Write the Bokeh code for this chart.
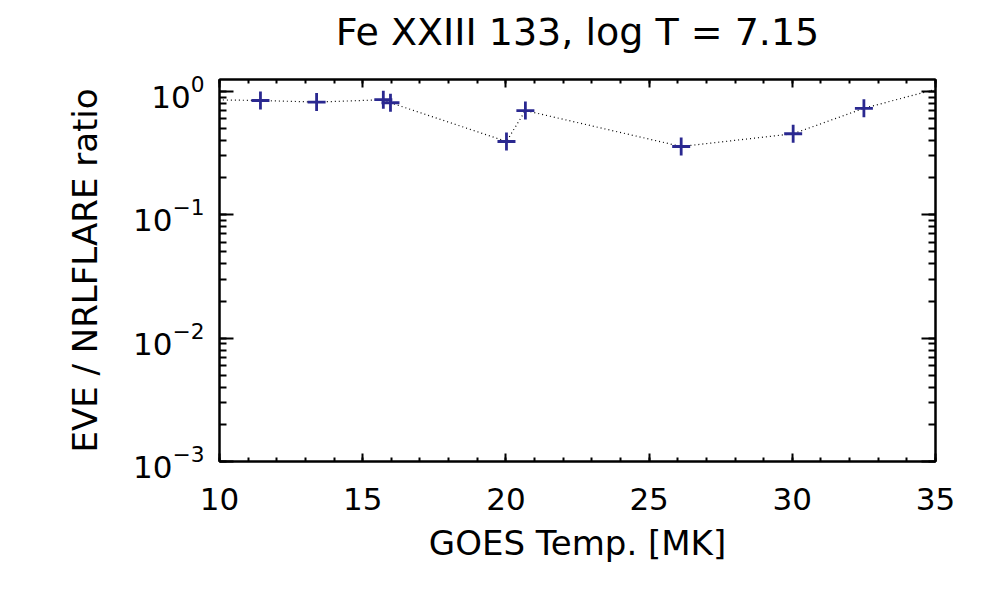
from bokeh.plotting import figure
from bokeh.models import (Range1d, LinearAxis, LogAxis, SingleIntervalTicker,
                          LogTicker, CustomJSTickFormatter, ColumnDataSource)
from bokeh.embed import file_html
from bokeh.resources import INLINE

# Data (first/last points lie outside the axis range,
# only the connecting dotted line reaches into the frame)
temp_mk = [9.0, 11.43, 13.39, 15.72, 15.97, 20.02, 20.68, 26.12, 30.03, 32.50, 36.0]
ratio = [0.86, 0.845, 0.82, 0.857, 0.81, 0.393, 0.70, 0.358, 0.454, 0.73, 1.2]

x_ticks = [10, 15, 20, 25, 30, 35]
title_text = "Fe XXIII 133, log T = 7.15"
x_label = "GOES Temp. [MK]"
y_label = "EVE / NRLFLARE ratio"

FONT = "DejaVu Sans"
src = ColumnDataSource(dict(t=temp_mk, r=ratio))

p = figure(width=984, height=584, x_range=Range1d(10, 35), y_range=Range1d(1e-3, 1.25),
           y_axis_type="log", output_backend="svg", toolbar_location=None,
           min_border_left=219, min_border_right=49, min_border_top=79, min_border_bottom=123)
p.background_fill_color = "white"
p.border_fill_color = "white"
p.outline_line_color = "black"
p.outline_line_width = 2
p.xgrid.visible = False
p.ygrid.visible = False

p.line("t", "r", source=src, line_color="black", line_width=1.2, line_dash="1 3")
p.scatter("t", "r", source=src, marker="cross", size=18, line_width=2.8, line_color="#2a2890")

blank = CustomJSTickFormatter(code="return ''")

def style(ax, major, minor):
    ax.axis_line_color = "black"
    ax.axis_line_width = 2
    ax.major_tick_in = major
    ax.major_tick_out = 0
    ax.minor_tick_in = minor
    ax.minor_tick_out = 0
    ax.major_tick_line_width = 2
    ax.minor_tick_line_width = 2
    ax.major_label_text_font = FONT
    ax.major_label_text_font_size = "31px"
    ax.major_label_text_color = "black"
    ax.axis_label_text_font = FONT
    ax.axis_label_text_font_size = "34px"
    ax.axis_label_text_font_style = "normal"
    ax.axis_label_text_color = "black"

xax = p.xaxis[0]
xax.ticker = SingleIntervalTicker(interval=5, num_minor_ticks=5)
xax.axis_label = x_label
style(xax, 8, 4)
xax.major_label_standoff = 26
xax.axis_label_standoff = 10

yax = p.yaxis[0]
yax.ticker = LogTicker(num_minor_ticks=10)
yax.axis_label = y_label
style(yax, 14, 7)
yax.major_label_standoff = 15
yax.axis_label_standoff = 25

# top axis: ticks only; its axis label carries the chart title
top = LinearAxis(ticker=SingleIntervalTicker(interval=5, num_minor_ticks=5), formatter=blank)
style(top, 8, 4)
top.major_label_text_font_size = "1px"
top.major_label_standoff = 0
top.axis_label = title_text
top.axis_label_text_font_size = "38px"
top.axis_label_standoff = 26
p.add_layout(top, "above")

right = LogAxis(ticker=LogTicker(num_minor_ticks=10), formatter=blank)
style(right, 14, 7)
right.major_label_text_font_size = "1px"
right.major_label_standoff = 0
p.add_layout(right, "right")

open("out.html", "w").write(file_html(p, INLINE))
